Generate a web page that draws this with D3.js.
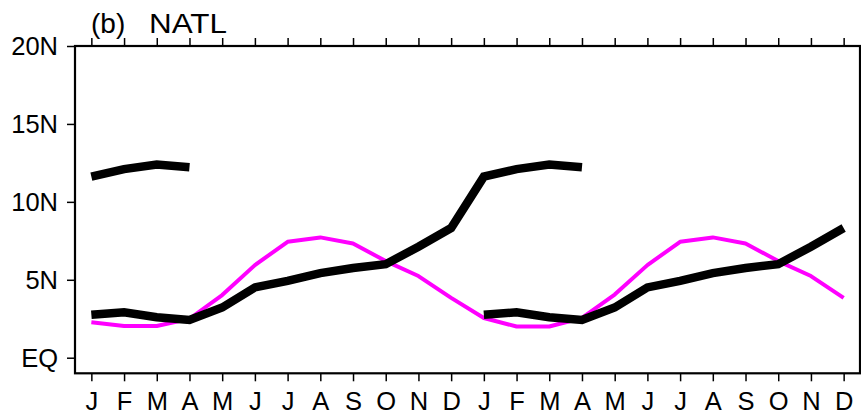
<!DOCTYPE html>
<html>
<head>
<meta charset="utf-8">
<script src="https://cdn.jsdelivr.net/npm/d3@7"></script>
<style>
  html, body { margin: 0; padding: 0; background: #fff; }
  svg { display: block; }
  text { font-family: "Liberation Sans", Arial, Helvetica, sans-serif; fill: #000; }
</style>
</head>
<body>
<svg id="chart" width="861" height="416"></svg>
<script>
// ---- data ----
const monthLabels = ["J","F","M","A","M","J","J","A","S","O","N","D",
                     "J","F","M","A","M","J","J","A","S","O","N","D"];
const yTickValues = [0, 5, 10, 15, 20];
const yTickLabels = ["EQ", "5N", "10N", "15N", "20N"];
// magenta curve, 24 months
const magentaSeries = [2.27, 2.03, 2.03, 2.5, 4.02, 5.94, 7.44, 7.72, 7.33, 6.2, 5.24, 3.84,
                       2.55, 2.0, 2.0, 2.55, 4.05, 5.94, 7.44, 7.72, 7.33, 6.2, 5.24, 3.84];
// black curve: southern branch J..D and northern branch J..A
const blackSouth = [2.75, 2.92, 2.6, 2.42, 3.22, 4.51, 4.93, 5.43, 5.76, 6.0, 7.12, 8.32];
const blackNorth = [11.62, 12.1, 12.4, 12.22];
const titleTag = "(b)";
const titleName = "NATL";

// ---- layout ----
const svg = d3.select("#chart");
const mLeft = 75, mRight = 860, mTop = 46, mBottom = 373.3;
const x = d3.scaleLinear().domain([-0.5, 23.5]).range([mLeft, mRight]);
const y = d3.scaleLinear().domain([-1, 20]).range([mBottom, mTop]);

// series
const line = d3.line().x(d => x(d[0])).y(d => y(d[1]));
const magentaPts = magentaSeries.map((v, i) => [i, v]);
const segA = blackNorth.map((v, i) => [i, v]);
const segB = blackSouth.map((v, i) => [i, v]).concat(blackNorth.map((v, i) => [12 + i, v]));
const segC = blackSouth.map((v, i) => [12 + i, v]);

svg.append("path").datum(magentaPts).attr("d", line)
  .attr("fill", "none").attr("stroke", "#ff00ff").attr("stroke-width", 4)
  .attr("stroke-linejoin", "round");
[segA, segB, segC].forEach(seg => {
  svg.append("path").datum(seg).attr("d", line)
    .attr("fill", "none").attr("stroke", "#000").attr("stroke-width", 8.5)
    .attr("stroke-linejoin", "miter").attr("stroke-linecap", "butt");
});

// axes
const idx = d3.range(24);
const xAxisB = d3.axisBottom(x).tickValues(idx).tickSize(8).tickPadding(11)
  .tickFormat(i => monthLabels[i]);
const gB = svg.append("g").attr("transform", `translate(0,${mBottom})`).call(xAxisB);
const xAxisT = d3.axisTop(x).tickValues(idx).tickSize(8).tickFormat("");
const gT = svg.append("g").attr("transform", `translate(0,${mTop})`).call(xAxisT);
const yAxisL = d3.axisLeft(y).tickValues(yTickValues).tickSize(8).tickPadding(9)
  .tickFormat((d, i) => yTickLabels[i]);
const gL = svg.append("g").attr("transform", `translate(${mLeft},0)`).call(yAxisL);

[gB, gT, gL].forEach(g => {
  g.select(".domain").remove();
  g.selectAll(".tick line").attr("stroke", "#000").attr("stroke-width", 1.5);
  g.selectAll(".tick text").attr("font-size", 25.5).attr("fill", "#000")
    .style("font-family", '"Liberation Sans", Arial, sans-serif');
});
gL.selectAll(".tick text").attr("dy", "0.35em");
gB.selectAll(".tick text").attr("dy", "0.7em");

// frame
svg.append("rect").attr("x", mLeft).attr("y", mTop)
  .attr("width", mRight - mLeft).attr("height", mBottom - mTop)
  .attr("fill", "none").attr("stroke", "#000").attr("stroke-width", 2.2);

// title
svg.append("text").attr("x", 91).attr("y", 33).attr("font-size", 28).text(titleTag);
svg.append("text").attr("x", 149).attr("y", 33).attr("font-size", 28)
  .attr("textLength", 78).attr("lengthAdjust", "spacingAndGlyphs").text(titleName);
</script>
</body>
</html>
